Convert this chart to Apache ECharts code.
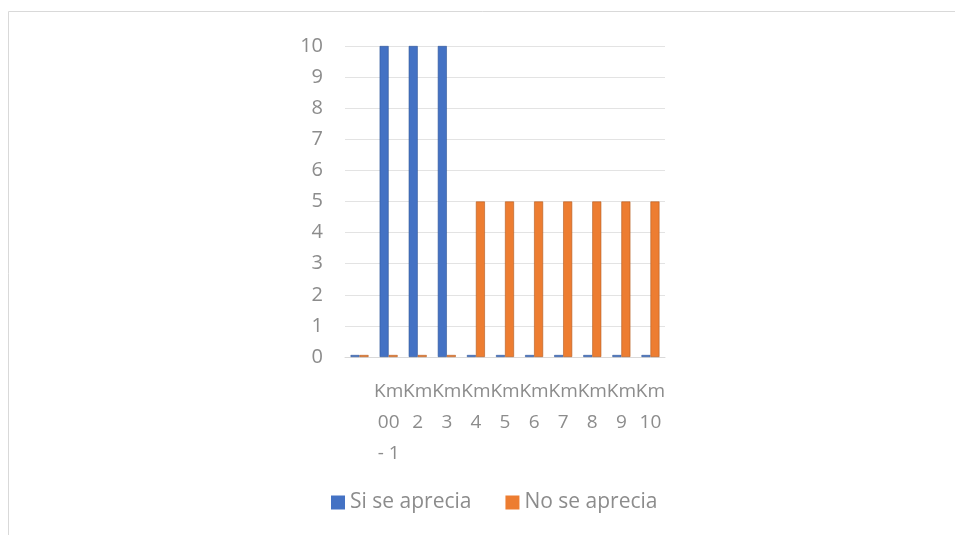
<!DOCTYPE html>
<html>
<head>
<meta charset="utf-8">
<script src="https://cdn.jsdelivr.net/npm/echarts@6/dist/echarts.min.js"></script>
<style>
  html, body { margin: 0; padding: 0; background: #fff; }
  #chart { width: 955px; height: 535px; }
</style>
</head>
<body>
<div id="chart"></div>
<script>
// datos (la primera categoria no tiene etiqueta)
var categories = ["", "Km 00 - 1", "Km 2", "Km 3", "Km 4", "Km 5", "Km 6", "Km 7", "Km 8", "Km 9", "Km 10"];
var siSeAprecia = [0, 10, 10, 10, 0, 0, 0, 0, 0, 0, 0];
var noSeAprecia = [0, 0, 0, 0, 5, 5, 5, 5, 5, 5, 5];
var yTicks = [0, 1, 2, 3, 4, 5, 6, 7, 8, 9, 10];

var labelColor = "#8c8c8c";
var font = "'Open Sans', 'Liberation Sans', sans-serif";

var myChart = echarts.init(document.getElementById("chart"));
var option = {
  animation: false,
  textStyle: { fontFamily: font },
  graphic: [{
    type: "rect",
    shape: { x: 8.5, y: 11.5, width: 960, height: 540 },
    style: { fill: "none", stroke: "#d9d9d9", lineWidth: 1 },
    silent: true
  }],
  grid: {
    left: 345,
    right: 290,
    top: 46,
    bottom: 178
  },
  legend: {
    bottom: 17,
    left: 326,
    itemWidth: 14,
    itemHeight: 14,
    itemGap: 34,
    icon: "rect",
    itemStyle: { borderWidth: 0 },
    textStyle: { fontSize: 21, color: labelColor, fontFamily: font },
    data: ["Si se aprecia", "No se aprecia"]
  },
  xAxis: {
    type: "category",
    data: categories,
    axisLine: { show: true, lineStyle: { color: "#d9d9d9" } },
    axisTick: { show: false },
    axisLabel: {
      interval: 0,
      margin: 19,
      fontSize: 19,
      lineHeight: 31,
      color: labelColor,
      formatter: function (v) {
        return v.replace(" - ", "\n- ").replace(" ", "\n");
      }
    }
  },
  yAxis: {
    type: "value",
    min: yTicks[0],
    max: yTicks[yTicks.length - 1],
    interval: 1,
    axisLine: { show: false },
    axisTick: { show: false },
    axisLabel: { fontSize: 20, color: labelColor, margin: 22 },
    splitLine: { lineStyle: { color: "#e3e3e3" } }
  },
  series: [
    {
      name: "Si se aprecia",
      type: "bar",
      data: siSeAprecia,
      barWidth: 9,
      barGap: "0%",
      barMinHeight: 2,
      itemStyle: { color: "#4472C4", borderColor: "#2f5597", borderWidth: 0.6 }
    },
    {
      name: "No se aprecia",
      type: "bar",
      data: noSeAprecia,
      barWidth: 9,
      barMinHeight: 2,
      itemStyle: { color: "#ED7D31", borderColor: "#b35a1f", borderWidth: 0.6 }
    }
  ]
};
myChart.setOption(option);
</script>
</body>
</html>
